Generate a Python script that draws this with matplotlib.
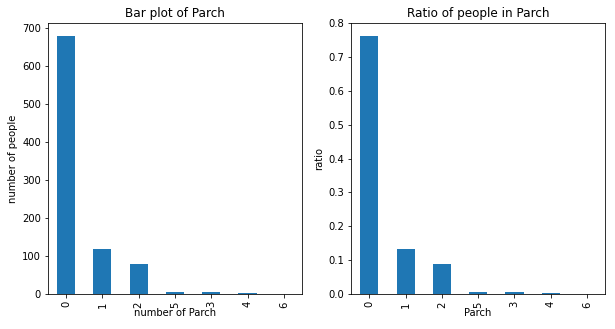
import matplotlib
matplotlib.use('Agg')
import matplotlib.pyplot as plt
import numpy as np

# Parch value counts (sorted by count, as pandas value_counts does)
categories = ['0', '1', '2', '5', '3', '4', '6']
counts = [678, 118, 80, 5, 5, 4, 1]
total = 891
ratios = [c / total for c in counts]

plt.rcParams['font.size'] = 10

fig = plt.figure(figsize=(615 / 72, 329 / 72), dpi=72)
ax1 = fig.add_axes([0.078, 0.106, 0.413, 0.824])
ax2 = fig.add_axes([0.571, 0.106, 0.413, 0.824])

x = np.arange(len(categories))

# Left: counts
ax1.bar(x, counts, width=0.5, color='#1f77b4')
ax1.set_xlim(-0.5, len(categories) - 0.5)
ax1.set_ylim(0, max(counts) * 1.05)
ax1.set_xticks(x)
ax1.set_xticklabels(categories, rotation=90)
ax1.set_xlabel('number of Parch', labelpad=0)
ax1.set_ylabel('number of people')
ax1.set_title('Bar plot of Parch', fontsize=12)

# Right: ratios
ax2.bar(x, ratios, width=0.5, color='#1f77b4')
ax2.set_xlim(-0.5, len(categories) - 0.5)
ax2.set_ylim(0, 0.8)
ax2.set_xticks(x)
ax2.set_xticklabels(categories, rotation=90)
ax2.set_xlabel('Parch', labelpad=0)
ax2.set_ylabel('ratio')
ax2.set_title('Ratio of people in Parch', fontsize=12)

plt.savefig('out.png', dpi=72)
